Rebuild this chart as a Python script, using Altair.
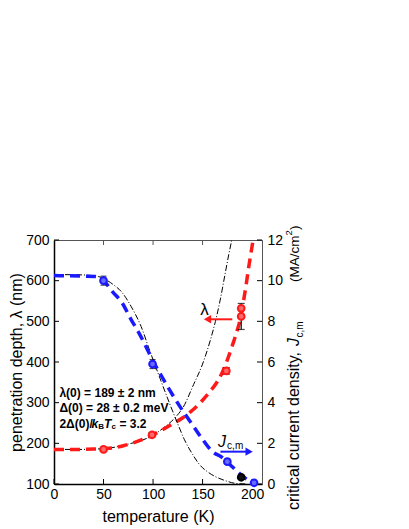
import altair as alt
import pandas as pd

FONT = "Liberation Sans"
RED = "#ff1a1a"
BLUE = "#1a1aff"

# ---------------- data ----------------
# penetration depth points
lam_T = [50, 99, 174, 189, 189]
lam_val = [185, 221, 378, 512, 532]
lam_err = [5, 5, 8, 32, 0]

# critical current density points
jc_T = [50, 99.5, 175, 189, 202]
jc_val = [10.0, 5.9, 1.1, 0.33, 0.06]
jc_err = [0.22, 0.22, 0.12, 0.1, 0.05]
jc_kind = ["blue", "blue", "blue", "black", "blue"]

# red dashed fit of lambda(T)
lamfit_T = [0, 20, 40, 50, 60, 70, 80, 90, 100, 110, 120, 130, 140, 150, 160,
            165, 170, 175, 180, 185, 188, 191, 194, 197, 199, 201]
lamfit_val = [185, 185, 186, 187, 189, 194, 201, 210, 221, 234, 248, 263, 282,
              306, 335, 352, 375, 405, 440, 478, 505, 545, 590, 640, 670, 700]

# black dash-dot model of lambda(T)
lammod_T = [0, 25, 50, 75, 100, 110, 123, 130, 141, 150, 158, 163, 168, 173,
            176.5, 179.5]
lammod_val = [185, 185, 187, 198, 220, 237, 265, 287, 345, 395, 455, 500, 555,
              620, 665, 700]

# blue dashed fit of Jc(T)
jcfit_T = [0, 42, 50, 59, 69, 78, 86, 94.5, 100, 106, 117, 130, 140, 148, 160,
           170, 175, 180, 185, 190, 195, 200, 203]
jcfit_val = [10.25, 10.2, 10.0, 9.46, 8.89, 8.07, 7.41, 6.59, 6.05, 5.52, 4.6,
             3.6, 2.9, 2.33, 1.59, 1.3, 1.08, 0.85, 0.62, 0.4, 0.22, 0.07, 0.0]

# black dash-dot model of Jc(T)
jcmod_T = [0, 30, 45, 53, 60, 68, 78, 88, 96, 107, 118, 125, 131.5, 140, 147,
           155, 163, 172, 183.5, 195]
jcmod_val = [10.3, 10.28, 10.2, 10.03, 9.8, 9.46, 8.72, 7.74, 6.65, 5.2, 3.8,
             2.95, 2.2, 1.45, 0.95, 0.6, 0.36, 0.18, 0.03, 0.0]

# axis ticks
x_ticks = [0, 50, 100, 150, 200]
lam_ticks = [100, 200, 300, 400, 500, 600, 700]
jc_ticks = [0, 2, 4, 6, 8, 10, 12]

# annotation anchors (data coordinates)
lam_arrow_T = [180, 156]
lam_arrow_y = 505
jc_arrow_T = [168, 196]
jc_arrow_y = 1.59
info_T = 5.5
info_lines_y = [324, 287, 248]

W, H = 208, 244
XD = [0, 210]
LD = [100, 700]
JD = [0, 12]

xs = alt.Scale(domain=XD, nice=False, zero=False)
ls = alt.Scale(domain=LD, nice=False, zero=False)
js = alt.Scale(domain=JD, nice=False, zero=False)

AX = alt.Axis(orient="bottom", values=x_ticks, ticks=False, labelPadding=3,
              labelFlush=False, title="temperature (K)", titleFontSize=16,
              titleFontWeight="normal", titlePadding=7, domainColor="black",
              domainWidth=1.5)
AL = alt.Axis(orient="left", values=lam_ticks, ticks=False, labelPadding=5,
              labelFlush=False, title="penetration depth, λ (nm)",
              titleFontSize=16, titleFontWeight="normal", titlePadding=1,
              domainColor="black", domainWidth=1.5)
AJ = alt.Axis(orient="right", values=jc_ticks, ticks=False, labelPadding=5,
              labelFlush=False, title=None, domainColor="#555555",
              domainWidth=1)


def X(f="T"):
    return alt.X(f"{f}:Q", scale=xs, axis=AX)


def YL(f="v"):
    return alt.Y(f"{f}:Q", scale=ls, axis=AL)


def YJ(f="v"):
    return alt.Y(f"{f}:Q", scale=js, axis=AJ)


lamfit = pd.DataFrame({"T": lamfit_T, "v": lamfit_val})
lammod = pd.DataFrame({"T": lammod_T, "v": lammod_val})
jcfit = pd.DataFrame({"T": jcfit_T, "v": jcfit_val})
jcmod = pd.DataFrame({"T": jcmod_T, "v": jcmod_val})

lam_pts = pd.DataFrame({"T": lam_T, "v": lam_val, "e": lam_err})
lam_pts["lo"] = lam_pts["v"] - lam_pts["e"]
lam_pts["hi"] = lam_pts["v"] + lam_pts["e"]
lam_eb = lam_pts[lam_pts["e"] > 0]

jc_pts = pd.DataFrame({"T": jc_T, "v": jc_val, "e": jc_err, "k": jc_kind})
jc_pts["lo"] = jc_pts["v"] - jc_pts["e"]
jc_pts["hi"] = jc_pts["v"] + jc_pts["e"]

dashdot = [6, 2, 1, 2]
dashed = [10, 6]

# ---------- lambda group (left axis) ----------
lam_ticks_layer = alt.Chart(pd.DataFrame({"v": lam_ticks})).mark_rule(
    color="black", strokeWidth=1).encode(
    x=alt.value(0), x2=alt.value(5), y=YL())

lam_model_line = alt.Chart(lammod).mark_line(
    color="black", strokeWidth=1, strokeDash=dashdot, interpolate="monotone",
    clip=True).encode(x=X(), y=YL())
lam_fit_line = alt.Chart(lamfit).mark_line(
    color=RED, strokeWidth=3.5, strokeDash=dashed, interpolate="monotone",
    clip=True).encode(x=X(), y=YL())
lam_bar = alt.Chart(lam_eb).mark_rule(color="black", strokeWidth=1.2).encode(
    x=X(), y=YL("lo"), y2="hi:Q")
lam_caps_lo = alt.Chart(lam_eb).mark_point(
    shape="stroke", size=49, color="black", strokeWidth=1.2).encode(x=X(), y=YL("lo"))
lam_caps_hi = alt.Chart(lam_eb).mark_point(
    shape="stroke", size=49, color="black", strokeWidth=1.2).encode(x=X(), y=YL("hi"))
lam_points = alt.Chart(lam_pts).mark_point(
    shape="circle", size=45, filled=True, fill="#ff6a6a", stroke=RED,
    strokeWidth=2, opacity=1).encode(x=X(), y=YL())

lam_arrow_df = pd.DataFrame({"T": lam_arrow_T, "v": [lam_arrow_y] * 2})
lam_arrow = alt.Chart(lam_arrow_df).mark_line(color=RED, strokeWidth=2).encode(
    x=X(), y=YL())
lam_head = alt.Chart(pd.DataFrame({"T": [lam_arrow_T[1] - 1], "v": [lam_arrow_y]})).mark_point(
    shape="triangle-left", size=70, filled=True, color=RED, opacity=1).encode(
    x=X(), y=YL())
lam_label = alt.Chart(pd.DataFrame({"T": [152], "v": [529], "t": ["λ"]})).mark_text(
    font=FONT, fontSize=17, color="black", baseline="middle").encode(
    x=X(), y=YL(), text="t:N")

info_df = pd.DataFrame({"T": [info_T, info_T],
                        "v": info_lines_y[:2],
                        "t": ["λ(0) = 189 ± 2 nm", "Δ(0) = 28 ± 0.2 meV"]})
info = alt.Chart(info_df).mark_text(
    font=FONT, fontSize=12, fontWeight="bold", align="left", baseline="middle",
    color="black").encode(x=X(), y=YL(), text="t:N")


def piece(txt, dx, dy=0, size=12, style="normal"):
    d = pd.DataFrame({"T": [info_T], "v": [info_lines_y[2]], "t": [txt]})
    return alt.Chart(d).mark_text(
        font=FONT, fontSize=size, fontWeight="bold", fontStyle=style,
        align="left", baseline="middle", color="black", dx=dx, dy=dy).encode(
        x=X(), y=YL(), text="t:N")


info3 = [
    piece("2Δ(0)/", 0),
    piece("k", 32, style="italic"),
    piece("B", 38.8, dy=3, size=8),
    piece("T", 44.5, style="italic"),
    piece("c", 52, dy=3, size=8),
    piece("= 3.2", 60),
]

lam_group = alt.layer(lam_ticks_layer, lam_model_line, lam_fit_line, lam_bar,
                      lam_caps_lo, lam_caps_hi, lam_points, lam_arrow, lam_head,
                      lam_label, info, *info3)

# ---------- Jc group (right axis) ----------
jc_ticks_layer = alt.Chart(pd.DataFrame({"v": jc_ticks})).mark_rule(
    color="black", strokeWidth=1).encode(
    x=alt.value(W), x2=alt.value(W - 5), y=YJ())

jc_model_line = alt.Chart(jcmod).mark_line(
    color="black", strokeWidth=1, strokeDash=dashdot, interpolate="monotone",
    clip=True).encode(x=X(), y=YJ())
jc_fit_line = alt.Chart(jcfit).mark_line(
    color=BLUE, strokeWidth=3.5, strokeDash=dashed, interpolate="monotone",
    clip=True).encode(x=X(), y=YJ())
jc_bar = alt.Chart(jc_pts).mark_rule(color="black", strokeWidth=1.2).encode(
    x=X(), y=YJ("lo"), y2="hi:Q")
jc_caps_lo = alt.Chart(jc_pts).mark_point(
    shape="stroke", size=36, color="black", strokeWidth=1.2).encode(x=X(), y=YJ("lo"))
jc_caps_hi = alt.Chart(jc_pts).mark_point(
    shape="stroke", size=36, color="black", strokeWidth=1.2).encode(x=X(), y=YJ("hi"))
jc_points = alt.Chart(jc_pts).mark_point(
    shape="circle", size=45, filled=True, strokeWidth=2, opacity=1).encode(
    x=X(), y=YJ(),
    fill=alt.Fill("k:N", scale=alt.Scale(domain=["blue", "black"],
                                         range=["#6a6aff", "#111111"]),
                  legend=None),
    stroke=alt.Stroke("k:N", scale=alt.Scale(domain=["blue", "black"],
                                             range=[BLUE, "black"]),
                      legend=None))

jc_arrow_df = pd.DataFrame({"T": jc_arrow_T, "v": [jc_arrow_y] * 2})
jc_arrow = alt.Chart(jc_arrow_df).mark_line(color=BLUE, strokeWidth=2).encode(
    x=X(), y=YJ())
jc_head = alt.Chart(pd.DataFrame({"T": [jc_arrow_T[1] + 1], "v": [jc_arrow_y]})).mark_point(
    shape="triangle-right", size=70, filled=True, color=BLUE, opacity=1).encode(
    x=X(), y=YJ())
jc_label_J = alt.Chart(pd.DataFrame({"T": [165.7], "v": [2.07], "t": ["J"]})).mark_text(
    font=FONT, fontSize=16, fontStyle="italic", align="left", color="black").encode(
    x=X(), y=YJ(), text="t:N")
jc_label_sub = alt.Chart(pd.DataFrame({"T": [165.7], "v": [2.07], "t": ["c,m"]})).mark_text(
    font=FONT, fontSize=10, align="left", color="black", dx=9, dy=4).encode(
    x=X(), y=YJ(), text="t:N")

jc_group = alt.layer(jc_ticks_layer, jc_model_line, jc_fit_line, jc_bar,
                     jc_caps_lo, jc_caps_hi, jc_points, jc_arrow, jc_head,
                     jc_label_J, jc_label_sub)

# ---------- x frame ticks ----------
bottom_ticks = alt.Chart(pd.DataFrame({"T": x_ticks})).mark_rule(
    color="black", strokeWidth=1).encode(
    x=X(), y=alt.value(H), y2=alt.value(H - 5))
top_ticks = alt.Chart(pd.DataFrame({"T": x_ticks[1:-1]})).mark_rule(
    color="#555555", strokeWidth=1).encode(
    x=X(), y=alt.value(0), y2=alt.value(5))


# right axis title built from pieces (rotated)
def rpiece(txt, dx, dy=0, size=16, style="normal"):
    d = pd.DataFrame({"t": [txt]})
    return alt.Chart(d).mark_text(
        font=FONT, fontSize=size, fontStyle=style, angle=270, align="left",
        baseline="alphabetic", color="black", dx=dx, dy=dy).encode(
        x=alt.value(W + 37), y=alt.value(270), text="t:N")


rtitle = [
    rpiece("critical current density,", 0),
    rpiece("J", 164, style="italic"),
    rpiece("c,m", 172.5, dy=4, size=10),
    rpiece("(MA/cm", 228, size=13.5),
    rpiece("2", 274.5, dy=-7, size=9.5),
    rpiece(")", 280, size=13.5),
]

chart = alt.layer(bottom_ticks, top_ticks, lam_group, jc_group, *rtitle).resolve_scale(
    y="independent").properties(
    width=W, height=H,
    autosize=alt.AutoSizeParams(type="none"),
    padding={"left": 46, "top": 232, "right": 130, "bottom": 44},
).configure_view(stroke="#555555", strokeWidth=1).configure_axis(
    labelFont=FONT, titleFont=FONT, labelFontSize=14, labelColor="black",
    titleColor="black", grid=False)

chart.save("out.html", embed_options={"renderer": "svg", "actions": False})
